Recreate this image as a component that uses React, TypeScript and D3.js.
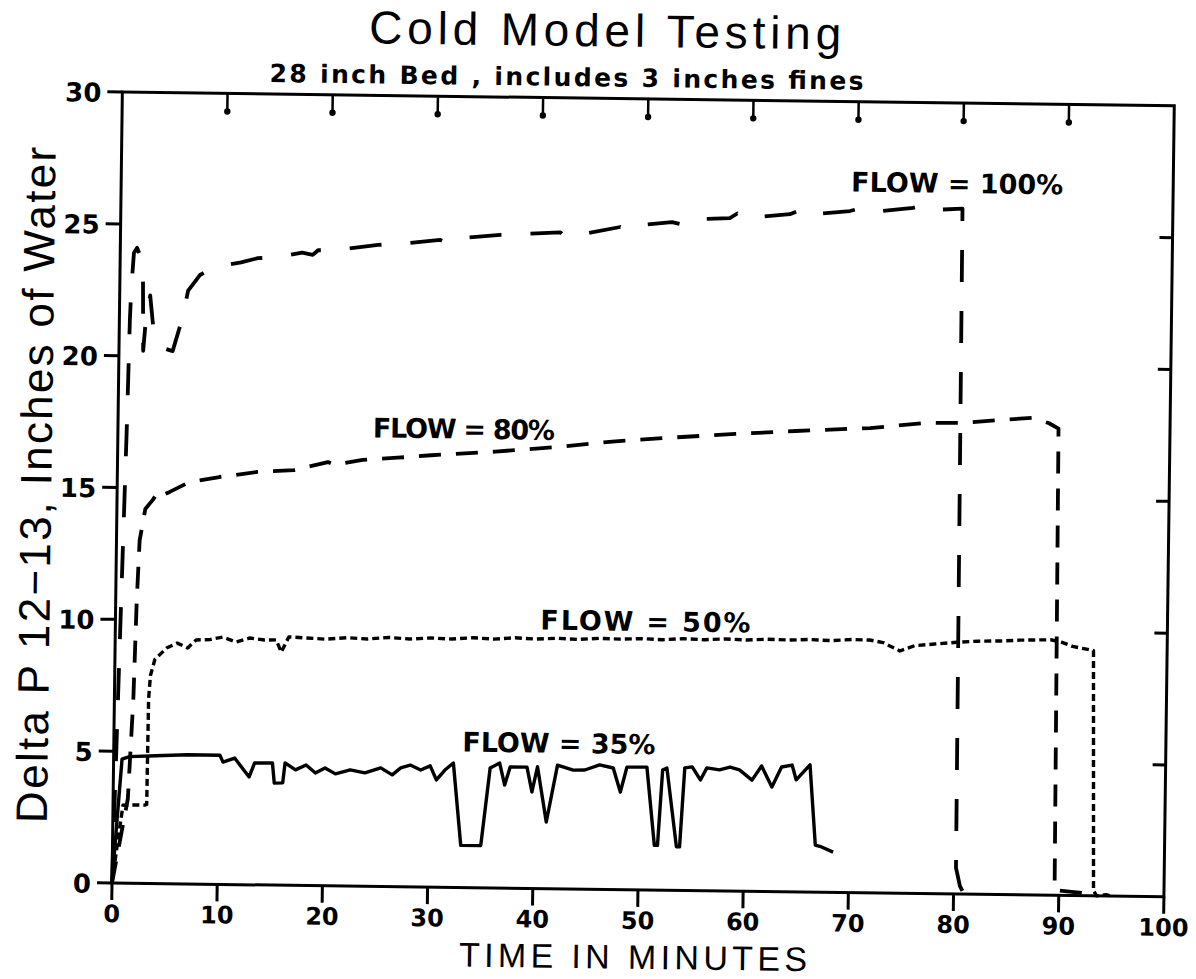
import React from 'react';
import * as d3 from 'd3';

const xTicks = [0, 10, 20, 30, 40, 50, 60, 70, 80, 90, 100];
const yTicks = [0, 5, 10, 15, 20, 25, 30];
const topTicks = [10, 20, 30, 40, 50, 60, 70, 80, 90];
const rightTicks = [5, 10, 15, 20, 25];

// [time in minutes, delta P in inches of water]
const flow100: [number, number][] = [
  [0, 0], [0.85, 17.5], [1.0, 21.4], [1.1, 22.6], [1.3, 23.9], [1.6, 24.1], [1.9, 23.8], [2.2, 22.8],
  [2.3, 20.2], [2.5, 21.3], [2.9, 22.3], [3.2, 21.2], [3.6, 20.7], [4.3, 20.3], [5.1, 20.2], [5.95, 21.4],
  [6.5, 22.5], [7.6, 23.1], [8.9, 23.4], [11.5, 23.6], [13.1, 23.77], [14.7, 23.8], [17.3, 24.0], [18.3, 23.92],
  [18.8, 24.1], [20.2, 24.1], [24.5, 24.33], [27, 24.4], [30.4, 24.55], [31, 24.45], [31.6, 24.6], [36.1, 24.77],
  [41.8, 24.9], [42.3, 24.72], [44, 24.85], [47.5, 25.13], [48.2, 25.02], [49, 25.2], [52.4, 25.34], [53.5, 25.25],
  [54.2, 25.45], [57.9, 25.52], [58.6, 25.7], [59.2, 25.52], [63.6, 25.7], [64.5, 25.85], [65, 25.68], [69.3, 25.85],
  [70.5, 25.98], [72, 25.85], [75.3, 26.0], [76.5, 26.12], [78, 25.95], [80.0, 26.0], [80.2, 1.0], [80.6, 0.3], [81.0, 0],
];

const flow80: [number, number][] = [
  [0, 0], [1.4, 3.2], [1.8, 7.0], [2.0, 10.7], [2.2, 13.0], [2.7, 14.2], [3.4, 14.55], [3.8, 14.8], [4.0, 14.67],
  [5.0, 14.86], [6.9, 15.25], [9.7, 15.45], [13.3, 15.66], [16.8, 15.75], [20.0, 16.07], [20.6, 15.97],
  [23.3, 16.17], [26.6, 16.27], [29.8, 16.38], [35.9, 16.55], [41.6, 16.75], [47.3, 17.0], [53.0, 17.18],
  [58.7, 17.34], [64.4, 17.48], [71.5, 17.63], [76.8, 17.85], [80.1, 17.87], [83.9, 18.0], [86.9, 18.1],
  [88.5, 17.9], [89.4, 17.7], [89.6, 0.2], [91, 0.15], [92.5, 0.1],
];

const flow50: [number, number][] = [
  [0, 0], [0.5, 1.6], [0.95, 2.96], [2, 2.97], [3.0, 2.97], [3.2, 3.0], [3.25, 7.0], [3.4, 7.9], [3.8, 8.5],
  [4.9, 8.94], [5.9, 9.13], [6.9, 8.95], [7.7, 9.26], [9.0, 9.28], [10.2, 9.38], [11.5, 9.2], [12.8, 9.36],
  [14.2, 9.29], [15.3, 9.3], [15.8, 8.84], [16.5, 9.42], [18.2, 9.39], [20, 9.35], [22, 9.42], [24, 9.38],
  [26, 9.45], [28, 9.4], [30, 9.45], [32, 9.42], [34, 9.48], [36, 9.44], [38, 9.5], [40, 9.46], [42, 9.5],
  [44, 9.47], [46, 9.52], [48, 9.5], [50, 9.53], [52, 9.5], [54, 9.55], [56, 9.52], [58, 9.56], [60, 9.53],
  [62, 9.57], [64, 9.55], [66, 9.58], [68, 9.55], [70, 9.6], [71.7, 9.59], [73, 9.5], [74.6, 9.19], [76, 9.4],
  [77.9, 9.47], [80, 9.55], [82, 9.6], [84.1, 9.62], [86, 9.66], [88.9, 9.69], [90, 9.6], [91, 9.45],
  [92.2, 9.36], [93.0, 9.3], [93.3, 0.2], [93.6, 0], [94.5, 0.05], [95, 0],
];

const flow35: [number, number][] = [
  [0, 0], [0.4, 2.4], [0.8, 4.7], [1.5, 4.8], [4, 4.85], [7, 4.9], [10.1, 4.9], [10.4, 4.64], [11.5, 4.8],
  [12.9, 4.09], [13.4, 4.62], [15.1, 4.63], [15.3, 3.87], [16.1, 3.88], [16.3, 4.64], [17.3, 4.38], [18.3, 4.57],
  [19.2, 4.27], [20.1, 4.47], [21.1, 4.25], [22.5, 4.41], [23.9, 4.3], [25.4, 4.5], [26.5, 4.24], [27.3, 4.51],
  [28.2, 4.62], [29.2, 4.44], [30.1, 4.6], [30.7, 4.07], [31.5, 4.45], [32.3, 4.72], [33.1, 1.6], [35.0, 1.6],
  [35.8, 4.55], [36.7, 4.74], [37.2, 3.91], [37.7, 4.6], [39.3, 4.6], [39.8, 3.66], [40.3, 4.62], [41.2, 2.53],
  [42.2, 4.69], [43.7, 4.51], [44.8, 4.52], [46.2, 4.72], [47.5, 4.61], [48.2, 3.7], [48.8, 4.65], [50.7, 4.66],
  [51.5, 1.7], [51.8, 1.7], [52.2, 4.56], [52.6, 4.64], [53.6, 1.65], [53.9, 1.65], [54.3, 4.65], [55.0, 4.69],
  [55.8, 4.2], [56.4, 4.66], [57.6, 4.59], [58.6, 4.7], [59.5, 4.6], [60.7, 4.22], [61.6, 4.76], [62.6, 3.97],
  [63.5, 4.73], [64.5, 4.81], [64.9, 4.25], [66.2, 4.83], [66.8, 1.79], [67.4, 1.72], [68.5, 1.53],
];

const seriesLabels = ['FLOW = 100%', 'FLOW = 80%', 'FLOW = 50%', 'FLOW = 35%'];

const W = 1196;
const H = 979;

export default function App() {
  const x = d3.scaleLinear().domain([0, 100]).range([112, 1164]);
  const y = d3.scaleLinear().domain([0, 30]).range([883, 92]);
  const line = d3
    .line<[number, number]>()
    .x((d) => x(d[0]))
    .y((d) => y(d[1]));

  const bold = { fontFamily: 'DejaVu Sans, Liberation Sans, sans-serif', fontWeight: 700 } as const;
  const thin = { fontFamily: 'Liberation Sans, Arial, sans-serif', fontWeight: 400 } as const;

  return (
    <svg
      width={W}
      height={H}
      viewBox={`0 0 ${W} ${H}`}
      style={{ position: 'absolute', left: 0, top: 0, display: 'block', background: '#fff' }}
    >
      <rect width={W} height={H} fill="#fff" />
      <g transform="rotate(0.75 112 883)">
        {/* titles */}
        <text x={594} y={40} textAnchor="middle" fontSize={46} textLength={472} lengthAdjust="spacing" {...thin}>
          Cold Model Testing
        </text>
        <text x={556} y={80} textAnchor="middle" fontSize={25} textLength={594} lengthAdjust="spacing" {...bold}>
          28 inch Bed , includes 3 inches fines
        </text>

        {/* frame */}
        <rect x={x(0)} y={y(30)} width={x(100) - x(0)} height={y(0) - y(30)} fill="none" stroke="#000" strokeWidth={3} />

        {/* bottom ticks */}
        {xTicks.map((t) => (
          <g key={'bx' + t}>
            <line x1={x(t)} x2={x(t)} y1={y(0)} y2={y(0) + 17} stroke="#000" strokeWidth={3} />
            <text x={x(t)} y={y(0) + 39} textAnchor="middle" fontSize={24} {...bold}>
              {t}
            </text>
          </g>
        ))}
        {/* top ticks with dots */}
        {topTicks.map((t) => (
          <g key={'tx' + t}>
            <line x1={x(t)} x2={x(t)} y1={y(30)} y2={y(30) + 17} stroke="#000" strokeWidth={2.5} />
            <circle cx={x(t)} cy={y(30) + 18} r={3.2} fill="#000" />
          </g>
        ))}
        {/* left ticks */}
        {yTicks.map((v) => (
          <g key={'ly' + v}>
            <line x1={x(0) - 15} x2={x(0)} y1={y(v)} y2={y(v)} stroke="#000" strokeWidth={3} />
            <text x={x(0) - 21} y={y(v) + 10} textAnchor="end" fontSize={26} {...bold}>
              {v}
            </text>
          </g>
        ))}
        {/* right ticks */}
        {rightTicks.map((v) => (
          <line key={'ry' + v} x1={x(100) - 13} x2={x(100)} y1={y(v)} y2={y(v)} stroke="#000" strokeWidth={3} />
        ))}

        {/* axis labels */}
        <text x={634} y={962} textAnchor="middle" fontSize={34} textLength={348} lengthAdjust="spacing" {...thin}>
          TIME IN MINUTES
        </text>
        <text
          transform="translate(46 486) rotate(-90)"
          textAnchor="middle"
          fontSize={44}
          textLength={676}
          lengthAdjust="spacing"
          {...thin}
        >
          Delta P 12−13, Inches of Water
        </text>

        {/* series */}
        <path d={line(flow100) || ''} fill="none" stroke="#000" strokeWidth={3.8} strokeDasharray="32 29" strokeLinejoin="round" />
        <path d={line(flow80) || ''} fill="none" stroke="#000" strokeWidth={3.8} strokeDasharray="22 15" strokeLinejoin="round" />
        <path d={line(flow50) || ''} fill="none" stroke="#000" strokeWidth={3.4} strokeDasharray="7 4" strokeLinejoin="round" />
        <path d={line(flow35) || ''} fill="none" stroke="#000" strokeWidth={3.4} strokeLinejoin="round" />

        {/* series labels */}
        <text x={948} y={182} textAnchor="middle" fontSize={27} textLength={212} lengthAdjust="spacing" {...bold}>
          {seriesLabels[0]}
        </text>
        <text x={458} y={434} textAnchor="middle" fontSize={27} textLength={182} lengthAdjust="spacing" {...bold}>
          {seriesLabels[1]}
        </text>
        <text x={642} y={624} textAnchor="middle" fontSize={27} textLength={210} lengthAdjust="spacing" {...bold}>
          {seriesLabels[2]}
        </text>
        <text x={557} y={747} textAnchor="middle" fontSize={27} textLength={193} lengthAdjust="spacing" {...bold}>
          {seriesLabels[3]}
        </text>
      </g>
    </svg>
  );
}
